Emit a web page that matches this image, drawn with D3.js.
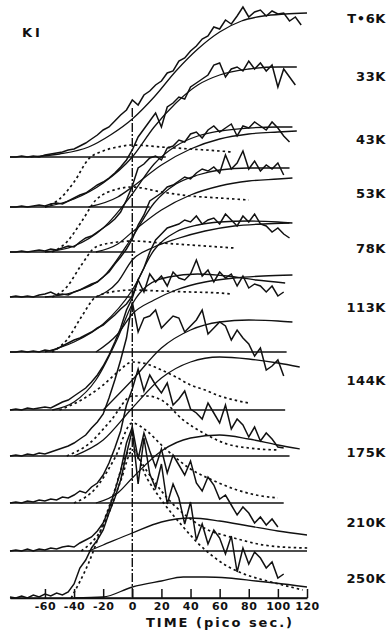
<!DOCTYPE html>
<html>
<head>
<meta charset="utf-8">
<script src="https://cdn.jsdelivr.net/npm/d3@7"></script>
<style>
  body { margin: 0; background: #fff; }
  svg text { font-family: "DejaVu Sans", sans-serif; font-weight: bold; fill: #111; }
</style>
</head>
<body>
<div id="chart"></div>
<script>
const times = [-84,-80,-76,-72,-68,-64,-60,-56,-52,-48,-44,-40,-36,-32,-28,-24,-20,-16,-12,-8,-4,0,
  4,8,12,16,20,24,28,32,36,40,44,48,52,56,60,64,68,72,76,80,84,88,92,96,100,104,108,112,116];

const temps = ['T•6K', '33K', '43K', '53K', '78K', '113K', '144K', '175K', '210K', '250K'];
// vertical offset of each trace's zero level (same units as the signal)
const zeroLevels = [441, 391, 346, 301, 246, 188, 142, 95, 47, 0];
// how far each zero line is drawn (ps)
const zeroEnds = [23, 12, 2, -1, 106, 105, 108, 104, 120, 120];

const sig6K   = [0,0,1,0,1,0,2,3,4,5,7,8,11,14,18,22,27,30,36,42,47,
  57,52,62,66,72,76,84,86,96,99,106,111,118,121,130,128,137,133,141,150,140,145,147,141,146,143,144,136,140,132];
const sig33K  = [0,0,1,0,1,2,1,3,4,3,6,9,12,14,18,22,25,29,34,40,47,
  57,70,78,86,94,80,100,104,110,108,120,124,128,132,142,144,130,138,140,136,146,138,144,136,142,120,138,130,122,null];
const sig43K  = [0,0,1,0,1,2,1,3,2,4,6,5,10,14,16,20,24,28,33,40,52,
  66,84,88,94,96,92,104,106,112,110,118,120,114,122,126,120,124,128,116,126,124,130,126,122,130,124,116,110,null,null];
const sig53K  = [0,1,0,1,0,2,3,5,2,3,2,5,7,10,13,15,20,25,33,40,48,
  58,72,82,96,100,104,110,112,116,120,118,124,128,126,130,124,142,128,134,146,128,136,126,132,128,134,122,null,null,null];
const sig78K  = [0,0,1,0,1,0,2,1,3,6,9,12,14,17,20,24,27,32,37,43,48,
  56,72,84,100,112,118,124,126,128,132,130,136,128,132,134,128,138,132,126,136,130,138,128,126,120,124,118,114,null,null];
const sig113K = [0,1,0,2,1,2,3,2,5,8,10,14,18,22,28,35,44,55,68,82,100,
  112,130,118,136,128,134,124,138,132,130,136,150,134,140,128,138,132,136,124,134,122,126,124,118,124,114,118,null,null,null];
const sig144K = [0,1,0,2,1,3,2,4,6,8,10,13,17,21,28,34,42,58,76,96,118,
  154,124,138,140,146,128,134,140,138,124,130,136,146,122,128,134,130,116,126,118,112,100,108,86,90,96,80,null,null,null];
const sig175K = [0,1,0,2,1,3,2,4,3,6,5,8,12,10,16,20,28,40,55,72,98,
  114,134,112,128,118,110,120,98,104,112,94,90,84,100,90,80,98,74,84,78,66,76,62,70,64,56,55,null,null,null];
const sig210K = [0,1,0,2,0,2,1,3,2,4,5,4,8,11,14,20,28,42,60,80,108,
  124,92,118,100,84,102,78,96,86,76,90,68,60,74,66,52,56,46,36,44,38,28,34,26,32,24,null,null,null,null];
const sig250K = [1,0,2,0,3,1,4,2,5,3,6,14,30,38,50,58,68,85,100,118,144,
  168,114,160,124,110,134,94,114,100,74,96,58,74,54,68,60,44,62,26,50,34,46,40,30,36,20,24,null,null,null];

// fitted total curves [ps, signal]
const tot6K  = [[-70,0],[-50,3],[-30,10],[-15,22],[0,38],[15,60],[30,86],[45,108],[60,125],[75,136],[90,141],[105,143],[120,144]];
const tot33K = [[-60,0],[-40,8],[-20,24],[0,50],[15,80],[30,104],[45,122],[60,132],[80,138],[100,140],[113,140]];
const tot43K = [[-60,0],[-40,6],[-20,24],[0,58],[15,88],[30,106],[45,116],[60,121],[80,124],[100,125],[110,125]];
const tot53K = [[-60,0],[-40,5],[-20,20],[0,60],[15,94],[30,113],[45,122],[60,127],[80,129],[100,129],[108,129]];
const tot78K = [[-60,0],[-40,10],[-20,28],[0,62],[15,102],[30,120],[45,127],[60,130],[80,131],[100,130],[110,129]];
const tot113K = [[-55,0],[-40,8],[-25,30],[-10,72],[0,106],[10,124],[25,133],[45,136],[65,134],[85,130],[105,127]];

// slow (solid) components
const slow33K  = [[-30,0],[-10,10],[0,20],[20,42],[40,58],[60,68],[80,73],[100,75],[113,76]];
const slow43K  = [[-25,0],[-10,8],[0,20],[20,42],[40,57],[60,66],[80,71],[100,73],[110,74]];
const slow53K  = [[-25,0],[-10,15],[0,37],[15,50],[30,58],[50,66],[70,71],[90,73],[108,74]];
const slow78K  = [[-25,0],[-10,18],[0,38],[15,52],[30,62],[50,70],[70,74],[90,76],[110,77]];
const slow113K = [[-20,0],[0,30],[20,62],[40,80],[60,88],[80,90],[100,89],[110,88]];
const slow144K = [[-40,0],[-20,16],[0,48],[20,78],[40,94],[60,99],[80,97],[100,93],[115,89]];
const slow175K = [[-25,0],[-10,10],[0,25],[20,52],[40,65],[60,68],[80,64],[100,58],[115,54]];
const slow210K = [[-30,0],[-20,6],[0,18],[20,29],[40,33],[60,30],[80,25],[100,20],[120,16]];
const slow250K = [[-40,0],[-20,1],[0,11],[20,17],[35,21],[50,21],[66,20],[85,17],[98,15],[120,11]];

// fast (dotted) components
const fast33K  = [[-60,0],[-50,8],[-40,25],[-30,48],[-20,56],[-10,60],[0,62],[20,60],[40,58],[60,56],[68,55]];
const fast43K  = [[-55,0],[-45,10],[-35,30],[-25,52],[-10,63],[0,65],[20,60],[40,56],[60,54],[80,52]];
const fast53K  = [[-55,0],[-45,10],[-35,32],[-25,50],[-10,55],[0,56],[20,54],[40,52],[60,50],[70,49]];
const fast78K  = [[-55,0],[-45,12],[-35,35],[-25,55],[-10,61],[0,62],[20,61],[40,60],[60,59],[68,58]];
const fast113K = [[-50,0],[-35,10],[-20,25],[-10,38],[0,48],[10,46],[20,40],[30,33],[40,25],[50,20],[60,14],[70,10],[80,7]];
const fast144K = [[-45,0],[-30,12],[-15,35],[0,60],[10,60],[20,56],[35,36],[50,22],[65,12],[80,8],[100,6]];
const fast175K = [[-40,0],[-25,15],[-12,45],[0,80],[10,72],[20,58],[30,45],[40,34],[55,23],[70,14],[85,8],[100,5]];
const fast210K = [[-35,0],[-20,25],[-8,70],[0,100],[10,80],[20,60],[30,44],[40,32],[52,21],[65,15],[75,11],[90,6],[103,4],[121,3]];
const fast250K = [[-42,0],[-30,35],[-15,95],[0,150],[10,120],[20,98],[35,71],[45,55],[56,41],[65,32],[75,25],[90,18],[98,15],[117,8]];

const xTicks = [-60, -40, -20, 0, 20, 40, 60, 80, 100, 120];

const signals = [sig6K, sig33K, sig43K, sig53K, sig78K, sig113K, sig144K, sig175K, sig210K, sig250K];
const totals  = [tot6K, tot33K, tot43K, tot53K, tot78K, tot113K, null, null, null, null];
const slows   = [null, slow33K, slow43K, slow53K, slow78K, slow113K, slow144K, slow175K, slow210K, slow250K];
const fasts   = [null, fast33K, fast43K, fast53K, fast78K, fast113K, fast144K, fast175K, fast210K, fast250K];

const width = 391, height = 631;
const svg = d3.select('#chart').append('svg')
  .attr('width', width).attr('height', height)
  .style('background', '#fff');

const x = d3.scaleLinear().domain([-84, 120]).range([10, 307]);
const y = d3.scaleLinear().domain([0, 600]).range([598, -2]);

const smooth = d3.line().curve(d3.curveMonotoneX);

const traces = temps.map((name, i) => ({
  name,
  zero: zeroLevels[i],
  zeroEnd: zeroEnds[i],
  signal: times.map((t, j) => [t, signals[i][j]]),
  total: totals[i],
  slow: slows[i],
  fast: fasts[i]
}));

const g = svg.append('g');

traces.forEach((tr) => {
  const off = tr.zero;
  const px = (p) => [x(p[0]), y(off + p[1])];

  // zero line
  g.append('line')
    .attr('x1', x(-84)).attr('x2', x(tr.zeroEnd))
    .attr('y1', y(off)).attr('y2', y(off))
    .attr('stroke', '#111').attr('stroke-width', 1.5);

  if (tr.slow) {
    g.append('path').attr('d', smooth(tr.slow.map(px)))
      .attr('fill', 'none').attr('stroke', '#111').attr('stroke-width', 1.3);
  }
  if (tr.total) {
    g.append('path').attr('d', smooth(tr.total.map(px)))
      .attr('fill', 'none').attr('stroke', '#111').attr('stroke-width', 1.3);
  }
  if (tr.fast) {
    g.append('path').attr('d', smooth(tr.fast.map(px)))
      .attr('fill', 'none').attr('stroke', '#111').attr('stroke-width', 1.7)
      .attr('stroke-dasharray', '2.5,3');
  }

  const dataLine = d3.line()
    .defined((d) => d[1] !== null)
    .x((d) => x(d[0]))
    .y((d) => y(off + d[1]));

  g.append('path').attr('d', dataLine(tr.signal))
    .attr('fill', 'none').attr('stroke', '#111')
    .attr('stroke-width', 1.5).attr('stroke-linejoin', 'miter');
});

// t = 0 marker
g.append('line')
  .attr('x1', x(0)).attr('x2', x(0))
  .attr('y1', y(490)).attr('y2', y(0))
  .attr('stroke', '#111').attr('stroke-width', 1.4)
  .attr('stroke-dasharray', '9,2,2,2');

// time axis: ticks pointing up, labels underneath
const axis = d3.axisBottom(x)
  .tickValues(xTicks)
  .tickFormat((d) => String(d))
  .tickSizeInner(-9)
  .tickSizeOuter(0)
  .tickPadding(4);

const ax = svg.append('g').attr('transform', `translate(0,${y(0)})`).call(axis);
ax.select('.domain').attr('stroke', '#111').attr('stroke-width', 1.5);
ax.selectAll('.tick line').attr('stroke', '#111').attr('stroke-width', 1.5);
ax.selectAll('.tick text')
  .attr('font-size', 11)
  .attr('letter-spacing', 0.5)
  .attr('font-family', '"DejaVu Sans", sans-serif')
  .attr('font-weight', 'bold')
  .attr('fill', '#111');

svg.append('text')
  .attr('x', 220).attr('y', 627)
  .attr('text-anchor', 'middle')
  .attr('font-size', 13)
  .attr('letter-spacing', 2)
  .text('TIME (pico sec.)');

svg.append('text')
  .attr('x', 22).attr('y', 37)
  .attr('font-size', 13)
  .attr('letter-spacing', 3)
  .text('KI');

// temperature labels down the right side
const labelY = [18, 76, 139, 193, 248, 307, 380, 452, 522, 578];
svg.selectAll('.tlabel')
  .data(traces)
  .enter()
  .append('text')
  .attr('class', 'tlabel')
  .attr('x', 386)
  .attr('y', (d, i) => labelY[i])
  .attr('dy', '0.36em')
  .attr('text-anchor', 'end')
  .attr('font-size', 13)
  .attr('letter-spacing', 0.6)
  .text((d) => d.name);
</script>
</body>
</html>
